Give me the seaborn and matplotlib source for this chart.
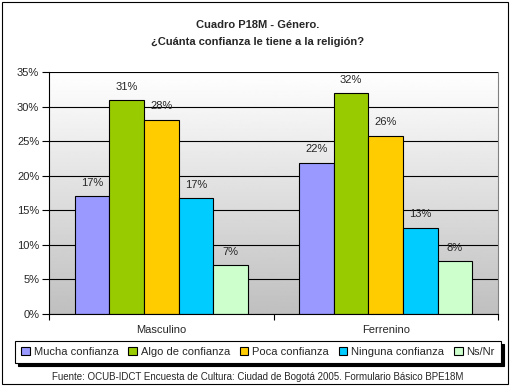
import numpy as np
import pandas as pd
import matplotlib
matplotlib.use("Agg")
import matplotlib.pyplot as plt
from matplotlib.patches import Rectangle
import seaborn as sns

generos = ["Masculino", "Ferrenino"]
respuestas = ["Mucha confianza", "Algo de confianza", "Poca confianza",
              "Ninguna confianza", "Ns/Nr"]
masculino = [17.0, 30.9, 28.1, 16.8, 7.1]
femenino = [21.9, 31.9, 25.8, 12.5, 7.6]
etiquetas_m = ["17%", "31%", "28%", "17%", "7%"]
etiquetas_f = ["22%", "32%", "26%", "13%", "8%"]
colores = ["#9999FF", "#99CC00", "#FFCC00", "#00CCFF", "#CCFFCC"]

df = pd.DataFrame({
    "genero": [generos[0]] * 5 + [generos[1]] * 5,
    "respuesta": respuestas * 2,
    "valor": masculino + femenino,
})

sns.set_style("white")
plt.rcParams["font.family"] = ["Liberation Sans", "DejaVu Sans"]

fig = plt.figure(figsize=(5.15, 3.91), dpi=100)
ax = fig.add_axes([49 / 515, 1 - 314 / 391, 449 / 515, 242 / 391])

sns.barplot(data=df, x="genero", y="valor", hue="respuesta",
            hue_order=respuestas, palette=colores, width=0.77, gap=0,
            edgecolor="black", linewidth=0.8, saturation=1, legend=True, ax=ax)

# fondo degradado
grad = np.linspace(0.75, 1.0, 256).reshape(-1, 1)
ax.imshow(grad, cmap="gray", vmin=0, vmax=1, aspect="auto",
          extent=(-0.5, 1.5, 0, 35), origin="lower", zorder=0)
ax.set_xlim(-0.5, 1.5)
ax.set_ylim(0, 35)

ax.set_axisbelow(True)
ax.set_yticks(np.arange(0, 36, 5))
ax.set_yticklabels([f"{v}%" for v in range(0, 36, 5)], fontsize=8)
ax.yaxis.grid(True, color="black", linewidth=0.8)
ax.tick_params(axis="y", length=5, width=0.8, color="black", left=True, pad=2)
ax.tick_params(axis="x", which="major", length=0, labelsize=8, pad=8)
ax.set_xticks([-0.5, 0.5, 1.5], minor=True)
ax.tick_params(axis="x", which="minor", length=4, width=0.8, color="black", bottom=True)
ax.set_xlabel("")
ax.set_ylabel("")
for s in ["left", "bottom"]:
    ax.spines[s].set_color("black")
    ax.spines[s].set_linewidth(0.8)
ax.spines["top"].set_visible(False)
ax.spines["right"].set_color("#808080")
ax.spines["right"].set_linewidth(0.8)

for i, cont in enumerate(ax.containers):
    ax.bar_label(cont, labels=[etiquetas_m[i], etiquetas_f[i]], padding=6, fontsize=8)

handles, labels = ax.get_legend_handles_labels()
ax.get_legend().remove()
leg = fig.legend(handles, labels, ncol=5, loc="center",
                 bbox_to_anchor=(258 / 515, 1 - 352 / 391), fontsize=8,
                 frameon=True, fancybox=False, edgecolor="black",
                 handlelength=0.8, handleheight=0.8, handletextpad=0.35,
                 columnspacing=0.85, borderpad=0.55, shadow={"color": "black", "alpha": 1})
leg.get_frame().set_linewidth(0.8)

fig.text(258 / 515, 1 - 25 / 391, "Cuadro P18M - Género.", ha="center", va="center",
         fontsize=8, fontweight="bold")
fig.text(258 / 515, 1 - 42 / 391, "¿Cuánta confianza le tiene a la religión?",
         ha="center", va="center", fontsize=8, fontweight="bold")
fig.text(258 / 515, 1 - 377 / 391,
         "Fuente: OCUB-IDCT Encuesta de Cultura: Ciudad de Bogotá 2005. Formulario Básico BPE18M",
         ha="center", va="center", fontsize=7)

fig.patches.append(Rectangle((2 / 515, 1 - 384 / 391), 506 / 515, 382 / 391,
                             transform=fig.transFigure, fill=False,
                             edgecolor="black", linewidth=0.8))

fig.savefig("out.png", dpi=100)
